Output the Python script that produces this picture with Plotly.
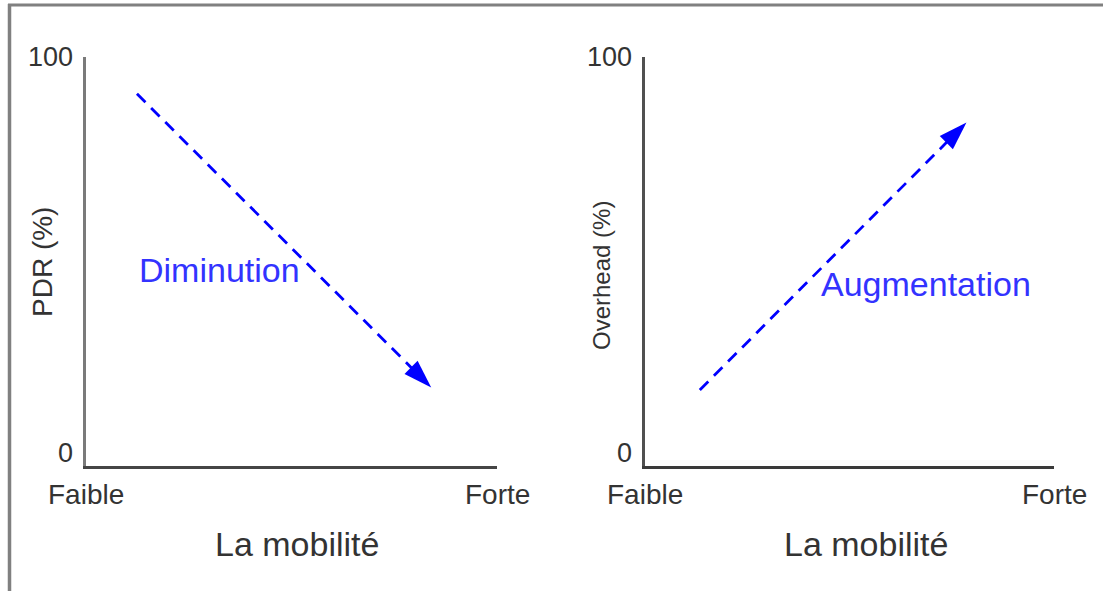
import plotly.graph_objects as go

# ---- data ----
mobility_categories = ["Faible", "Forte"]
mobility_tick_values = [0, 100]
y_tick_labels = ["0", "100"]
y_tick_values = [0, 100]

pdr_mobility = [12.4, 84.0]
pdr_values = [91, 19.2]
pdr_label = "Diminution"

overhead_mobility = [13.4, 78.6]
overhead_values = [18.6, 84.0]
overhead_label = "Augmentation"

x_title = "La mobilité"
y_titles = ["PDR (%)", "Overhead (%)"]

W, H = 1103, 591
FONT = "Liberation Sans, Arial, sans-serif"
TXT = "#333333"
BLUE = "#0000ff"
TBLUE = "#3333ff"

def px_x(p):
    return p / W

def px_y(p):
    return 1 - p / H

fig = go.Figure()

for xs, ys, xa, ya in [(pdr_mobility, pdr_values, "x", "y"),
                       (overhead_mobility, overhead_values, "x2", "y2")]:
    fig.add_trace(go.Scatter(
        x=xs, y=ys, mode="lines+markers", xaxis=xa, yaxis=ya,
        line=dict(color=BLUE, width=2.8, dash="12px,8px"),
        marker=dict(symbol=["circle", "arrow"], size=[0, 30], color=BLUE, opacity=1,
                    angleref="previous", line=dict(width=0)),
        showlegend=False, hoverinfo="skip"))

y_dom = [px_y(466), px_y(57)]
ax_common = dict(range=[0, 100], showgrid=False, zeroline=False, showticklabels=False,
                 ticks="", fixedrange=True)
fig.update_layout(
    width=W, height=H, margin=dict(l=0, r=0, t=0, b=0),
    paper_bgcolor="white", plot_bgcolor="white",
    font=dict(family=FONT, color=TXT),
    xaxis=dict(domain=[px_x(86), px_x(497)], anchor="y", showline=True,
               linecolor="#454545", linewidth=2.5, **ax_common),
    yaxis=dict(domain=y_dom, anchor="x", showline=True,
               linecolor="#7a7a7a", linewidth=3, **ax_common),
    xaxis2=dict(domain=[px_x(645), px_x(1054)], anchor="y2", showline=True,
                linecolor="#3a3a3a", linewidth=2.5, **ax_common),
    yaxis2=dict(domain=y_dom, anchor="x2", showline=True,
                linecolor="#505050", linewidth=2.5, **ax_common),
)

ann = []
for xr, yr, ytitle, ytx, yty, ysz, xtx in [
    ("x", "y", y_titles[0], 42, 262, 28, 297),
    ("x2", "y2", y_titles[1], 601, 276, 24, 866),
]:
    for v, lab in zip(mobility_tick_values, mobility_categories):
        ann.append(dict(x=v, y=0, xref=xr, yref=yr, text=lab, showarrow=False,
                        xanchor="center", yanchor="top", yshift=-11,
                        font=dict(size=28, family=FONT, color=TXT)))
    for v, lab in zip(y_tick_values, y_tick_labels):
        ann.append(dict(x=0, y=v, xref=xr, yref=yr, text=lab, showarrow=False,
                        xanchor="right", yanchor="bottom" if v == 0 else "middle",
                        xshift=-11, yshift=-4 if v == 0 else 0,
                        font=dict(size=27, family=FONT, color=TXT)))
    ann.append(dict(x=px_x(xtx), y=px_y(544), xref="paper", yref="paper", text=x_title,
                    showarrow=False, xanchor="center", yanchor="middle",
                    font=dict(size=34, family=FONT, color=TXT)))
    ann.append(dict(x=px_x(ytx), y=px_y(yty), xref="paper", yref="paper", text=ytitle,
                    showarrow=False, xanchor="center", yanchor="middle", textangle=-90,
                    font=dict(size=ysz, family=FONT, color=TXT)))

ann.append(dict(x=px_x(219), y=px_y(270), xref="paper", yref="paper", text=pdr_label,
                showarrow=False, xanchor="center", yanchor="middle",
                font=dict(size=34, family=FONT, color=TBLUE)))
ann.append(dict(x=px_x(926), y=px_y(284), xref="paper", yref="paper", text=overhead_label,
                showarrow=False, xanchor="center", yanchor="middle",
                font=dict(size=34, family=FONT, color=TBLUE)))
fig.update_layout(annotations=ann)

# frame
fig.add_shape(type="line", xref="paper", yref="paper", x0=px_x(8), x1=1, y0=px_y(5), y1=px_y(5),
              line=dict(color="#808080", width=3))
fig.add_shape(type="line", xref="paper", yref="paper", x0=px_x(9.5), x1=px_x(9.5), y0=px_y(4), y1=0,
              line=dict(color="#808080", width=3.5))

fig.write_html("out.html", config={"displayModeBar": False},
               post_script="document.body.style.margin='0';document.body.style.overflow='hidden';")
